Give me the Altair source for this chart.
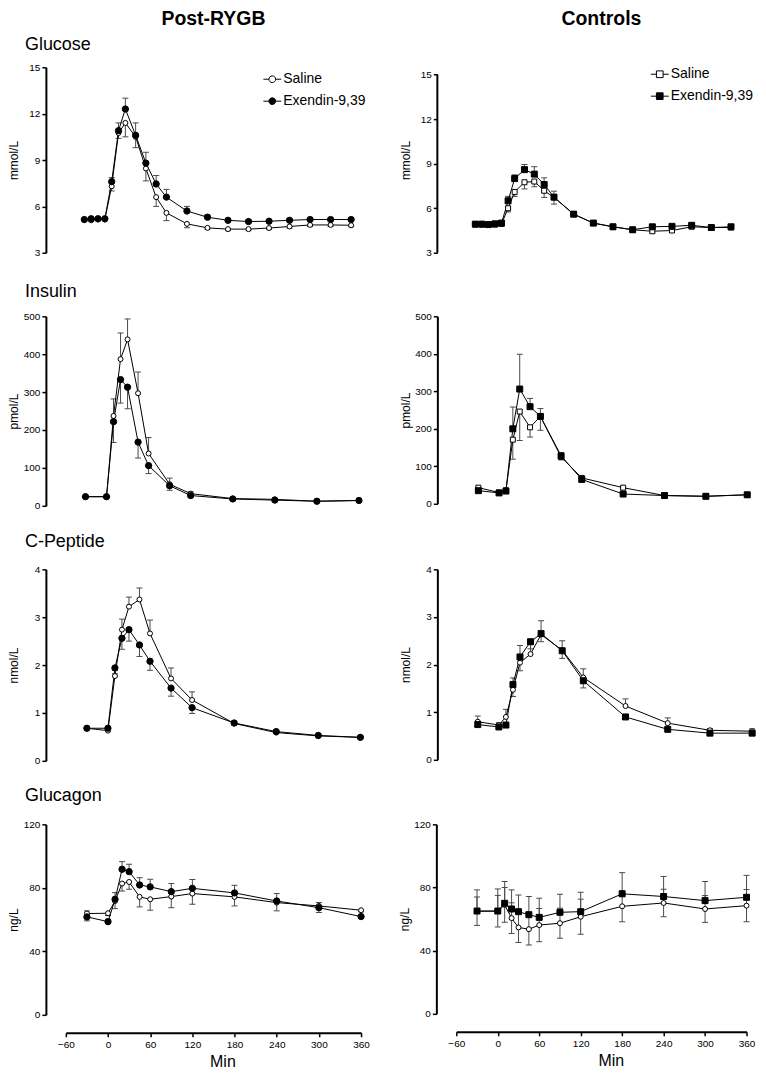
import altair as alt
import pandas as pd

FONT = "Liberation Sans, Arial, Helvetica, sans-serif"
SER = ["Saline", "Exendin-9,39"]

# ---------------- time points (min) ----------------
t_glu = [-30, -20, -10, 0, 10, 20, 30, 45, 60, 75, 90, 120, 150, 180, 210, 240, 270, 300, 330, 360]
t_std = [-30, 0, 10, 20, 30, 45, 60, 90, 120, 180, 240, 300, 360]
x_ticks = [-60, 0, 60, 120, 180, 240, 300, 360]

# ---------------- Post-RYGB ----------------
rygb_glu_sal = [5.15, 5.1, 5.15, 5.15, 7.3, 10.75, 11.4, 10.5, 8.45, 6.6, 5.58, 4.87, 4.61, 4.53, 4.53, 4.6, 4.7, 4.8, 4.8, 4.78]
rygb_glu_sal_sem = [0.05, 0.05, 0.05, 0.05, 0.3, 0.35, 0.9, 0.7, 0.8, 0.6, 0.5, 0.25, 0.1, 0.1, 0.1, 0.1, 0.1, 0.1, 0.1, 0.1]
rygb_glu_ex = [5.15, 5.2, 5.2, 5.2, 7.6, 10.9, 12.3, 10.6, 8.8, 7.45, 6.6, 5.7, 5.3, 5.1, 5.02, 5.04, 5.1, 5.15, 5.15, 5.15]
rygb_glu_ex_sem = [0.05, 0.05, 0.05, 0.05, 0.26, 0.5, 0.7, 0.8, 0.7, 0.55, 0.5, 0.3, 0.15, 0.12, 0.1, 0.1, 0.1, 0.1, 0.1, 0.1]

rygb_ins_sal = [24, 24, 237, 387, 439, 297, 138, 57, 32, 19, 17, 12, 14]
rygb_ins_sal_sem = [2, 2, 45, 69, 54, 56, 42, 16, 5, 2, 2, 2, 2]
rygb_ins_ex = [24, 24, 222, 333, 313, 168, 106, 53, 27, 18, 15, 12, 14]
rygb_ins_ex_sem = [2, 2, 55, 62, 57, 42, 21, 12, 4, 2, 2, 2, 2]

rygb_cp_sal = [0.68, 0.63, 1.77, 2.74, 3.22, 3.37, 2.66, 1.72, 1.27, 0.78, 0.59, 0.52, 0.49]
rygb_cp_sal_sem = [0.03, 0.03, 0.05, 0.22, 0.2, 0.24, 0.28, 0.22, 0.17, 0.05, 0.03, 0.02, 0.02]
rygb_cp_ex = [0.68, 0.68, 1.94, 2.56, 2.74, 2.42, 2.08, 1.52, 1.11, 0.79, 0.61, 0.53, 0.49]
rygb_cp_ex_sem = [0.03, 0.03, 0.05, 0.23, 0.24, 0.24, 0.19, 0.17, 0.12, 0.04, 0.03, 0.02, 0.02]

rygb_gcg_sal = [63.8, 64.0, 71.7, 82.7, 83.7, 74.3, 72.8, 74.5, 76.4, 74.3, 70.7, 68.6, 65.9]
rygb_gcg_sal_sem = [4.6, 1.5, 4.8, 4.7, 4.6, 6.3, 6.9, 7.0, 6.8, 5.7, 5.2, 4.2, 1.0]
rygb_gcg_ex = [61.7, 58.7, 72.8, 91.7, 90.2, 81.8, 80.6, 77.6, 79.7, 76.8, 71.7, 67.5, 61.9]
rygb_gcg_ex_sem = [3.8, 1.5, 4.2, 4.8, 4.6, 4.6, 4.8, 5.1, 5.5, 4.8, 4.7, 3.2, 1.0]

# ---------------- Controls ----------------
ctl_glu_sal = [4.9, 4.9, 4.88, 4.9, 4.95, 6.0, 7.1, 7.75, 7.8, 7.18, 6.73, 5.6, 5.0, 4.75, 4.55, 4.45, 4.5, 4.75, 4.7, 4.7]
ctl_glu_sal_sem = [0.05, 0.05, 0.05, 0.05, 0.1, 0.25, 0.3, 0.45, 0.35, 0.45, 0.45, 0.15, 0.1, 0.1, 0.1, 0.1, 0.1, 0.1, 0.1, 0.1]
ctl_glu_ex = [4.93, 4.93, 4.9, 4.95, 5.0, 6.5, 8.0, 8.6, 8.3, 7.6, 6.75, 5.6, 5.0, 4.75, 4.55, 4.75, 4.78, 4.85, 4.7, 4.75]
ctl_glu_ex_sem = [0.05, 0.05, 0.05, 0.05, 0.1, 0.3, 0.25, 0.35, 0.5, 0.45, 0.4, 0.15, 0.1, 0.1, 0.1, 0.1, 0.1, 0.1, 0.1, 0.1]

ctl_ins_sal = [43, 30, 36, 171, 246, 204, 233, 125, 69, 43, 22, 20, 24]
ctl_ins_sal_sem = [3, 2, 3, 52, 77, 26, 37, 8, 5, 3, 2, 2, 2]
ctl_ins_ex = [35, 29, 34, 200, 306, 259, 233, 128, 65, 26, 22, 20, 24]
ctl_ins_ex_sem = [3, 2, 3, 58, 93, 22, 21, 8, 5, 3, 2, 2, 2]

ctl_cp_sal = [0.8, 0.73, 0.9, 1.47, 2.04, 2.22, 2.63, 2.3, 1.73, 1.13, 0.77, 0.62, 0.6]
ctl_cp_sal_sem = [0.12, 0.05, 0.16, 0.25, 0.36, 0.2, 0.29, 0.2, 0.18, 0.15, 0.11, 0.04, 0.05]
ctl_cp_ex = [0.74, 0.69, 0.73, 1.58, 2.16, 2.48, 2.65, 2.29, 1.66, 0.9, 0.64, 0.56, 0.56]
ctl_cp_ex_sem = [0.04, 0.04, 0.04, 0.25, 0.29, 0.15, 0.17, 0.16, 0.15, 0.04, 0.04, 0.03, 0.03]

ctl_gcg_sal = [65.0, 65.0, 69.0, 60.6, 54.7, 53.6, 56.2, 57.4, 61.5, 68.1, 70.2, 66.4, 68.5]
ctl_gcg_sal_sem = [9.0, 10.0, 11.0, 9.7, 9.6, 10.0, 10.5, 9.5, 11.1, 9.8, 8.7, 8.5, 10.2]
ctl_gcg_ex = [65.1, 65.1, 70.0, 66.4, 64.7, 62.8, 61.1, 64.3, 64.7, 76.0, 74.3, 71.7, 73.8]
ctl_gcg_ex_sem = [13.4, 14.0, 13.8, 12.1, 10.6, 11.5, 12.1, 11.4, 12.3, 13.4, 12.7, 12.1, 13.9]

CIRCLE_SYM = "M-1.6,0L-0.6,0M0.6,0L1.6,0M0.6,0A0.6,0.6,0,1,1,-0.6,0A0.6,0.6,0,1,1,0.6,0Z"
SQUARE_SYM = "M-1.6,0L-0.6,0M0.6,0L1.6,0M-0.6,-0.6L0.6,-0.6L0.6,0.6L-0.6,0.6Z"


def series_df(times, vals, name):
    return pd.DataFrame({"t": times, "v": vals, "series": [name] * len(times)})


def err_df(times, sal, sal_sem, sal_dir, ex, ex_sem, ex_dir):
    rows = []
    for name, vals, sems, d in ((SER[0], sal, sal_sem, sal_dir), (SER[1], ex, ex_sem, ex_dir)):
        for t, v, s in zip(times, vals, sems):
            if d in ("up", "both"):
                rows.append({"t": t, "v": v, "e": v + s, "series": name})
            if d in ("down", "both"):
                rows.append({"t": t, "v": v, "e": v - s, "series": name})
    return pd.DataFrame(rows)


def label_layer(text, x, y, size, weight="normal", align="left", baseline="alphabetic"):
    return alt.Chart(pd.DataFrame({"label": [text]})).mark_text(
        align=align, baseline=baseline, fontSize=size, fontWeight=weight,
        font=FONT, color="black").encode(text="label:N", x=alt.value(x), y=alt.value(y))


def panel(times, sal, sal_sem, sal_dir, ex, ex_sem, ex_dir, *, ydomain, yticks, ytitle,
          xdomain, width, height, shapes, sizes, yoff, show_x=False, titlex=150,
          legend=None, texts=(), axis_end=None):
    yscale = alt.Scale(domain=ydomain, nice=False, zero=False)
    xscale = alt.Scale(domain=xdomain, nice=False, zero=False)
    yaxis = alt.Axis(values=yticks, title=ytitle, offset=yoff, titleX=-25,
                     domain=axis_end is None)
    if show_x:
        xaxis = alt.Axis(values=x_ticks, title="Min", offset=18, titleX=titlex, titleY=34,
                         titleBaseline="alphabetic", titleFontSize=16, labelPadding=3)
    else:
        xaxis = None

    def X(f="t"):
        return alt.X(f + ":Q", scale=xscale, axis=xaxis)

    def Y(f):
        return alt.Y(f + ":Q", scale=yscale, axis=yaxis)

    sdf = series_df(times, sal, SER[0])
    xdf = series_df(times, ex, SER[1])
    pdf = pd.concat([sdf, xdf], ignore_index=True)
    edf = err_df(times, sal, sal_sem, sal_dir, ex, ex_sem, ex_dir)

    bars = alt.Chart(edf).mark_rule(color="#4a4a4a", strokeWidth=1).encode(
        x=X(), y=Y("v"), y2=alt.Y2("e:Q"))
    caps = alt.Chart(edf).mark_tick(orient="horizontal", size=6, thickness=1,
                                    color="#4a4a4a", opacity=1).encode(x=X(), y=Y("e"))
    line = alt.Chart(pdf).mark_line(color="black", strokeWidth=1).encode(
        x=X(), y=Y("v"), detail="series:N")
    layers = [bars, caps, line]
    if legend is not None:
        leg = alt.Legend(orient="none", legendX=legend[0], legendY=legend[1], title=None,
                         symbolType=legend[2], symbolSize=125, symbolStrokeColor="black",
                         symbolStrokeWidth=1, symbolOpacity=1, labelFontSize=14,
                         labelFont=FONT, labelColor="black", labelOffset=4,
                         rowPadding=8, padding=0)
        leg_layer = alt.Chart(pdf).mark_point(filled=True, stroke="black", strokeWidth=1,
                                              size=0.5).encode(
            x=X(), y=Y("v"),
            fill=alt.Fill("series:N", scale=alt.Scale(domain=SER, range=["white", "black"]),
                          legend=leg))
        layers.append(leg_layer)
    s_pts = alt.Chart(sdf).mark_point(filled=True, fill="white", stroke="black", strokeWidth=1,
                                      opacity=1, shape=shapes[0], size=sizes[0]).encode(x=X(), y=Y("v"))
    x_pts = alt.Chart(xdf).mark_point(filled=True, fill="black", stroke="black", strokeWidth=1,
                                      opacity=1, shape=shapes[1], size=sizes[1]).encode(x=X(), y=Y("v"))
    layers += [s_pts, x_pts]
    if axis_end is not None:
        adf = pd.DataFrame({"a": [axis_end[0]], "b": [axis_end[1]]})
        ax_line = alt.Chart(adf).mark_rule(color="black", strokeWidth=2).encode(
            y=Y("a"), y2=alt.Y2("b:Q"), x=alt.value(-yoff))
        layers.append(ax_line)
    for tx in texts:
        layers.append(label_layer(*tx))
    return alt.layer(*layers).properties(width=width, height=height)


LW = 296
RW = 291
C_SIZES = [25, 40]
S_SIZES = [25, 36]
M_SIZES = [25, 36]

p_glu_l = panel(t_glu, rygb_glu_sal, rygb_glu_sal_sem, "down", rygb_glu_ex, rygb_glu_ex_sem, "up",
                ydomain=[3, 15], yticks=[3, 6, 9, 12, 15], ytitle="mmol/L", xdomain=[-57, 374.5],
                width=LW, height=186, shapes=["circle", "circle"], sizes=C_SIZES, yoff=20,
                legend=[200, 5, CIRCLE_SYM],
                texts=[("Post-RYGB", LW / 2, -57, 19.5, "bold", "center", "top"),
                       ("Glucose", -41, -17, 18)])
p_ins_l = panel(t_std, rygb_ins_sal, rygb_ins_sal_sem, "up", rygb_ins_ex, rygb_ins_ex_sem, "down",
                ydomain=[0, 500], yticks=[0, 100, 200, 300, 400, 500], ytitle="pmol/L", xdomain=[-58, 363],
                width=LW, height=190, shapes=["circle", "circle"], sizes=C_SIZES, yoff=20,
                texts=[("Insulin", -41, -19, 18)])
p_cp_l = panel(t_std, rygb_cp_sal, rygb_cp_sal_sem, "up", rygb_cp_ex, rygb_cp_ex_sem, "down",
               ydomain=[0, 4], yticks=[0, 1, 2, 3, 4], ytitle="nmol/L", xdomain=[-60, 361],
               width=LW, height=192, shapes=["circle", "circle"], sizes=C_SIZES, yoff=20,
               texts=[("C-Peptide", -41, -22, 18)])
p_gcg_l = panel(t_std, rygb_gcg_sal, rygb_gcg_sal_sem, "down", rygb_gcg_ex, rygb_gcg_ex_sem, "up",
                ydomain=[0, 120], yticks=[0, 40, 80, 120], ytitle="ng/L", xdomain=[-60, 360],
                width=LW, height=191, shapes=["circle", "circle"], sizes=C_SIZES, yoff=20,
                show_x=True, titlex=157, texts=[("Glucagon", -41, -23, 18)])

p_glu_r = panel(t_glu, ctl_glu_sal, ctl_glu_sal_sem, "down", ctl_glu_ex, ctl_glu_ex_sem, "up",
                ydomain=[3, 15.5], yticks=[3, 6, 9, 12, 15], ytitle="mmol/L", xdomain=[-59, 383.7],
                width=RW, height=186, shapes=["square", "square"], sizes=S_SIZES, yoff=19,
                legend=[197, 0, SQUARE_SYM], axis_end=[3, 15],
                texts=[("Controls", RW / 2, -57, 19.5, "bold", "center", "top")])
p_ins_r = panel(t_std, ctl_ins_sal, ctl_ins_sal_sem, "down", ctl_ins_ex, ctl_ins_ex_sem, "up",
                ydomain=[0, 500], yticks=[0, 100, 200, 300, 400, 500], ytitle="pmol/L", xdomain=[-62, 359],
                width=RW, height=188, shapes=["square", "square"], sizes=S_SIZES, yoff=19)
p_cp_r = panel(t_std, ctl_cp_sal, ctl_cp_sal_sem, "up", ctl_cp_ex, ctl_cp_ex_sem, "down",
               ydomain=[0, 4], yticks=[0, 1, 2, 3, 4], ytitle="nmol/L", xdomain=[-60.5, 352],
               width=RW, height=191, shapes=["circle", "square"], sizes=M_SIZES, yoff=19)
p_gcg_r = panel(t_std, ctl_gcg_sal, ctl_gcg_sal_sem, "both", ctl_gcg_ex, ctl_gcg_ex_sem, "up",
                ydomain=[0, 120], yticks=[0, 40, 80, 120], ytitle="ng/L", xdomain=[-60, 360],
                width=RW, height=190, shapes=["circle", "square"], sizes=M_SIZES, yoff=20,
                show_x=True, titlex=155)

chart = alt.concat(
    p_glu_l, p_glu_r, p_ins_l, p_ins_r, p_cp_l, p_cp_r, p_gcg_l, p_gcg_r,
    columns=2, bounds="flush", align="each",
    spacing={"row": 63.7, "column": 95.5},
).resolve_scale(
    fill="independent"
).resolve_legend(
    fill="independent"
).properties(
    padding={"left": 0, "top": 0, "right": 0, "bottom": 0},
    background="white",
).configure_view(stroke=None).configure_axis(
    grid=False, domainColor="black", domainWidth=2, tickColor="black", tickWidth=1.5,
    tickSize=4, labelFontSize=10, labelColor="black", labelFont=FONT, labelPadding=2,
    labelFlush=False, labelOverlap=False, titleFont=FONT, titleFontSize=12,
    titleFontWeight="normal", titleColor="black",
)

chart.save("out.html", embed_options={"renderer": "svg", "actions": False})
